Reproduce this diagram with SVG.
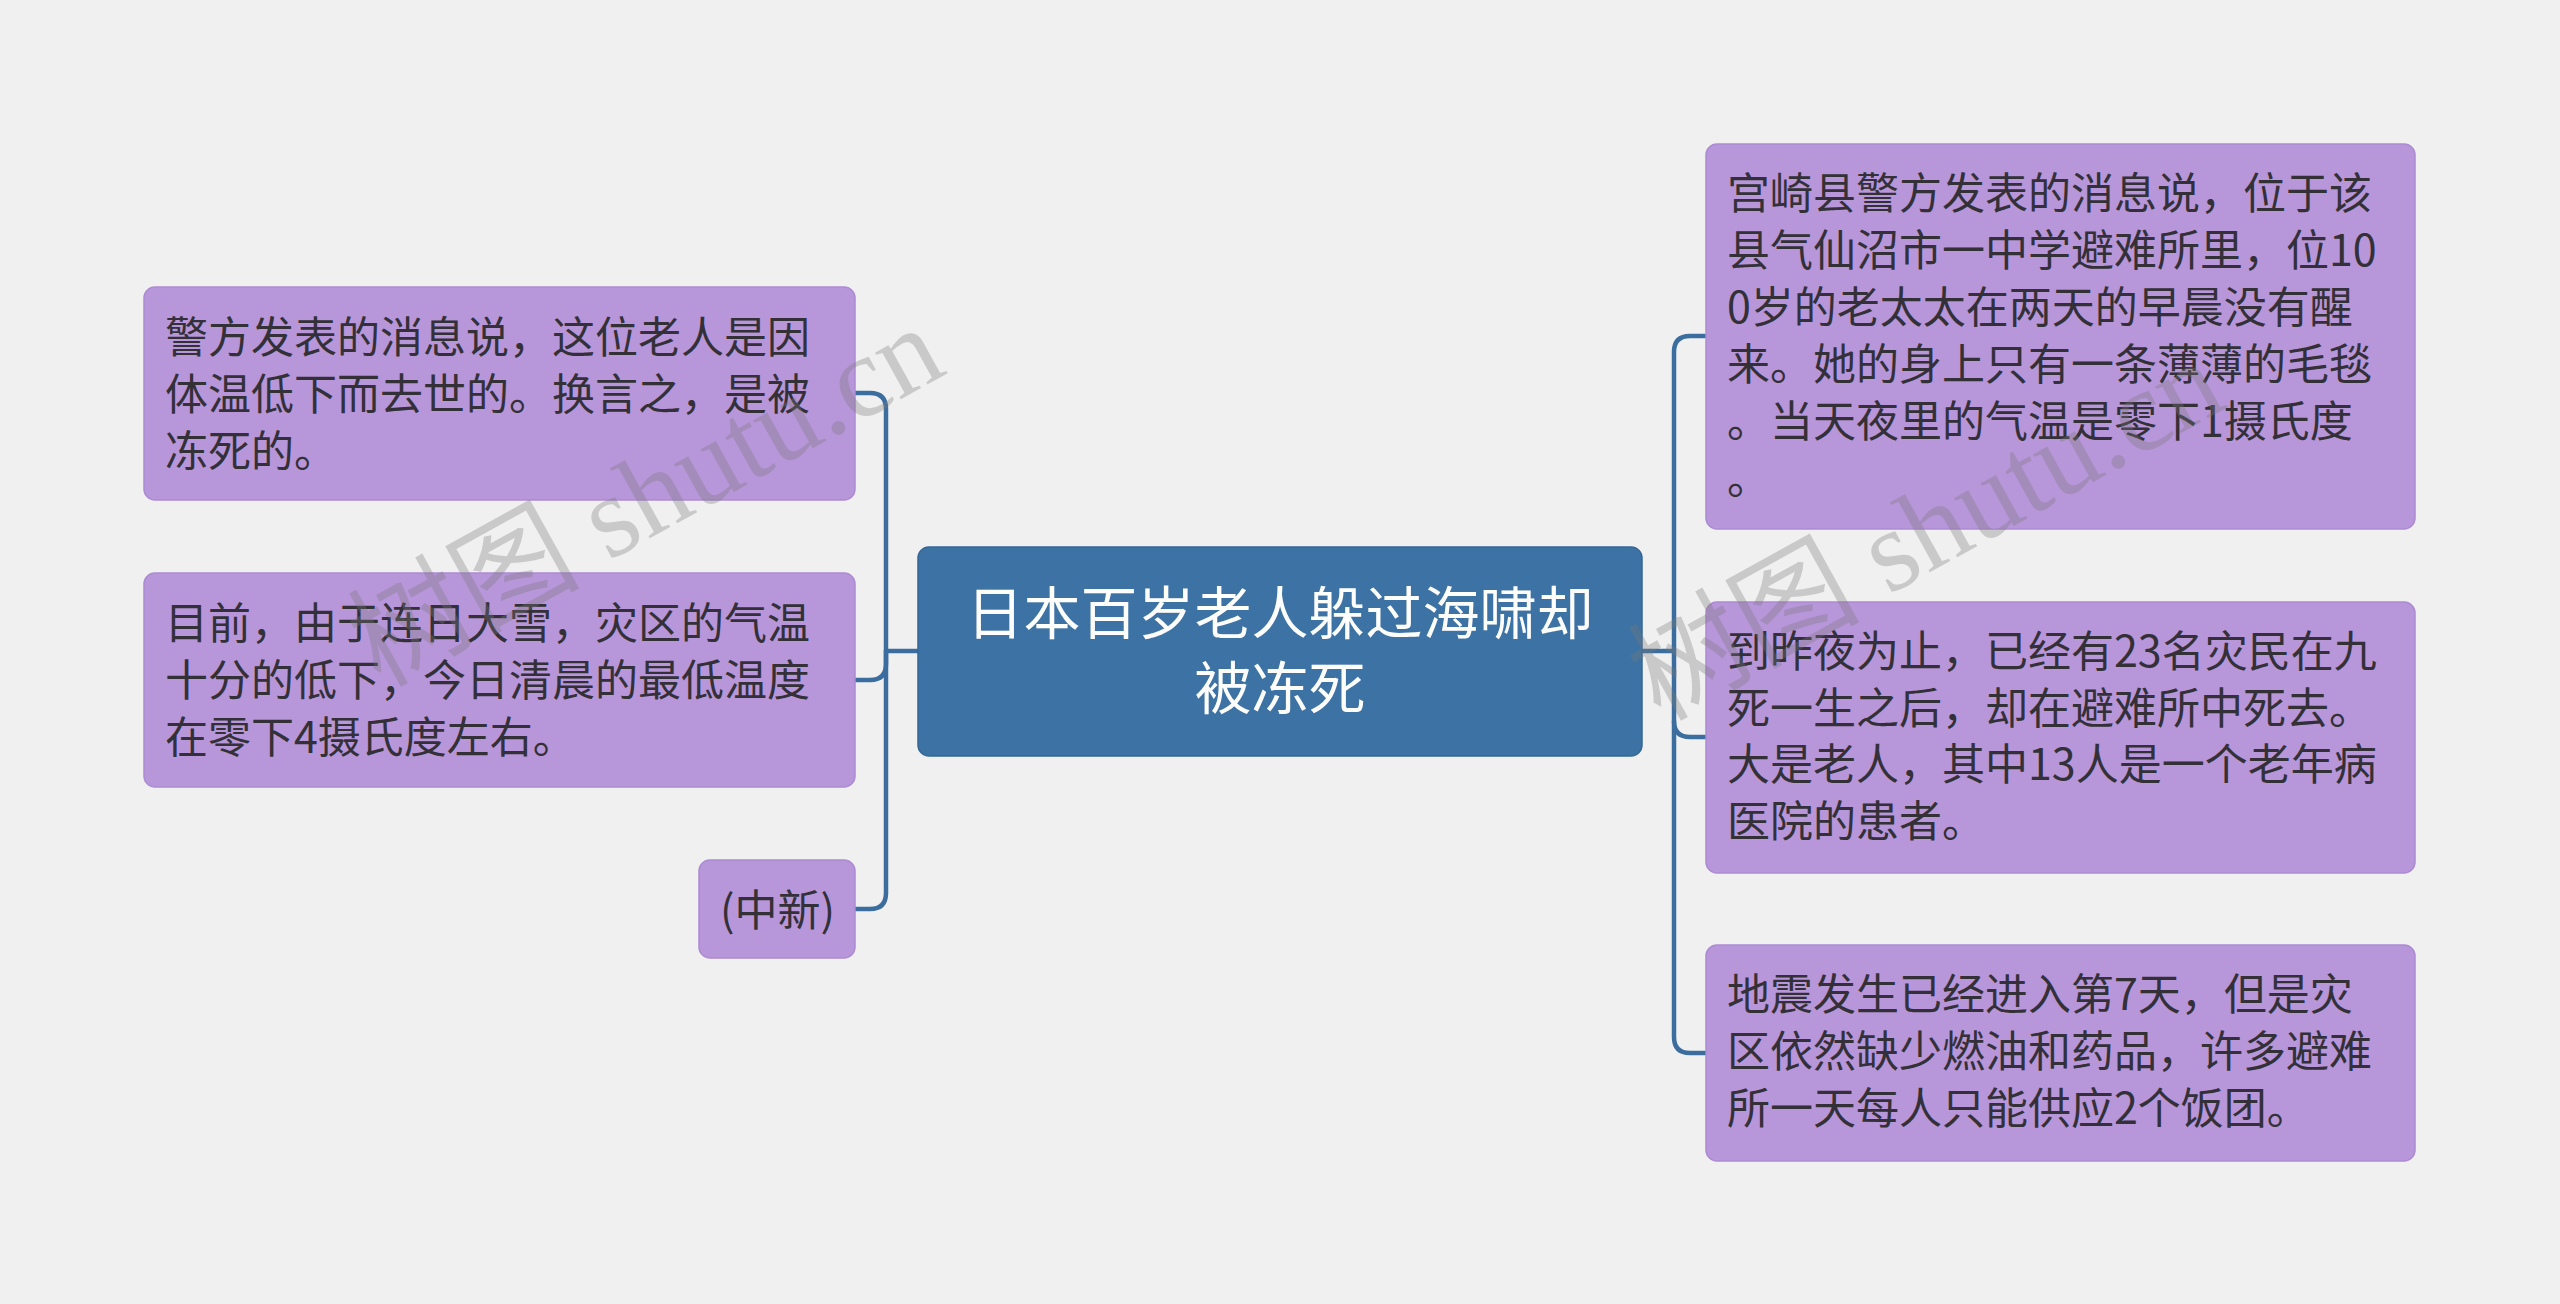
<svg xmlns="http://www.w3.org/2000/svg" width="2560" height="1304" viewBox="0 0 2560 1304">
<style>
.bg{fill:#f0f0f0}
.box{fill:#b796da;stroke:#ad8bd3;stroke-width:1.5}
.root{fill:#3d72a4;stroke:#356796;stroke-width:1.5}
.t{font-family:"Noto Sans CJK SC","Noto Sans",sans-serif;font-size:43px;fill:#333038}
.rt{font-family:"Noto Sans CJK SC","Noto Sans",sans-serif;font-size:57px;fill:#ffffff;text-anchor:middle}
.c{fill:none;stroke:#3b6d9e;stroke-width:4.5;stroke-linecap:round}
.wm{font-family:"Liberation Serif","Noto Sans CJK SC",serif;font-size:116px;fill:#7a7a7a;opacity:0.32}
</style>
<rect class="bg" x="0" y="0" width="2560" height="1304"/>
<g id="connectors">
<path class="c" d="M918,651 H886"/>
<path class="c" d="M855,393 H870 Q886,393 886,409 V893 Q886,909 870,909 H855"/>
<path class="c" d="M886,651 V664 Q886,680 870,680 H855"/>
<path class="c" d="M1642,651 H1674"/>
<path class="c" d="M1705,336 H1690 Q1674,336 1674,352 V1037 Q1674,1053 1690,1053 H1705"/>
<path class="c" d="M1674,721 Q1674,737 1690,737 H1705"/>
</g>
<g id="root">
<rect class="root" x="918" y="547" width="724" height="209" rx="11"/>
<text class="rt" x="1280" y="634">日本百岁老人躲过海啸却</text>
<text class="rt" x="1280" y="709">被冻死</text>
</g>
<g id="left1">
<rect class="box" x="144" y="287" width="711" height="213" rx="11"/>
<text class="t" x="165" y="353">警方发表的消息说，这位老人是因</text>
<text class="t" x="165" y="410">体温低下而去世的。换言之，是被</text>
<text class="t" x="165" y="467">冻死的。</text>
</g>
<g id="left2">
<rect class="box" x="144" y="573" width="711" height="214" rx="11"/>
<text class="t" x="165" y="639">目前，由于连日大雪，灾区的气温</text>
<text class="t" x="165" y="696">十分的低下，今日清晨的最低温度</text>
<text class="t" x="165" y="753">在零下4摄氏度左右。</text>
</g>
<g id="left3">
<rect class="box" x="699" y="860" width="156" height="98" rx="11"/>
<text class="t" x="720" y="926">(中新)</text>
</g>
<g id="right1">
<rect class="box" x="1706" y="144" width="709" height="385" rx="11"/>
<text class="t" x="1727" y="209">宫崎县警方发表的消息说，位于该</text>
<text class="t" x="1727" y="266">县气仙沼市一中学避难所里，位10</text>
<text class="t" x="1727" y="323">0岁的老太太在两天的早晨没有醒</text>
<text class="t" x="1727" y="380">来。她的身上只有一条薄薄的毛毯</text>
<text class="t" x="1727" y="437">。当天夜里的气温是零下1摄氏度</text>
<text class="t" x="1727" y="494">。</text>
</g>
<g id="right2">
<rect class="box" x="1706" y="602" width="709" height="271" rx="11"/>
<text class="t" x="1727" y="667">到昨夜为止，已经有23名灾民在九</text>
<text class="t" x="1727" y="724">死一生之后，却在避难所中死去。</text>
<text class="t" x="1727" y="780">大是老人，其中13人是一个老年病</text>
<text class="t" x="1727" y="837">医院的患者。</text>
</g>
<g id="right3">
<rect class="box" x="1706" y="945" width="709" height="216" rx="11"/>
<text class="t" x="1727" y="1010">地震发生已经进入第7天，但是灾</text>
<text class="t" x="1727" y="1067">区依然缺少燃油和药品，许多避难</text>
<text class="t" x="1727" y="1124">所一天每人只能供应2个饭团。</text>
</g>
<g id="watermark">
<text class="wm" transform="translate(380,688) rotate(-29)">树图 shutu.cn</text>
<text class="wm" transform="translate(1660,722) rotate(-29)">树图 shutu.cn</text>
</g>
</svg>
